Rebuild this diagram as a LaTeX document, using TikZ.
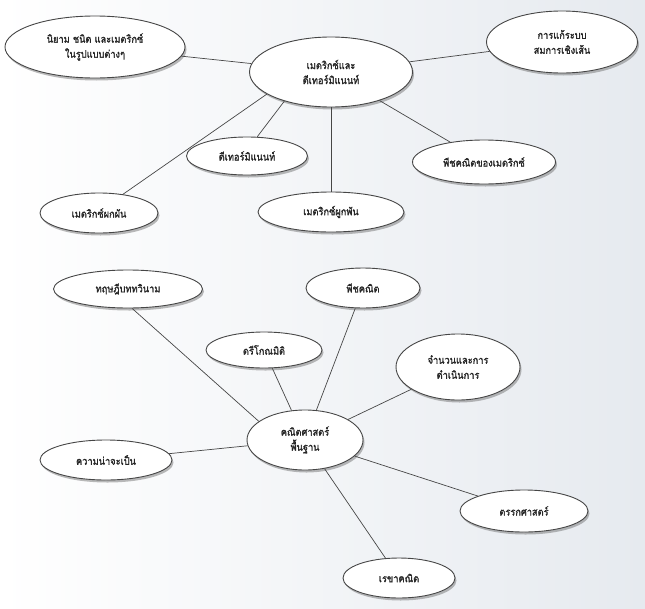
\documentclass[tikz,border=0pt]{standalone}
\usepackage{fontspec}
\newfontfamily\thaifont[Script=Thai,FakeBold=1.6,FakeStretch=0.88]{Loma}
\usetikzlibrary{shapes.geometric,shadows}
\definecolor{bgA}{RGB}{255,255,255}
\definecolor{bgB}{RGB}{230,234,239}
\definecolor{edgec}{RGB}{70,70,70}
\tikzset{
  topic/.style={ellipse, draw=edgec, line width=0.9pt, fill=white, inner sep=0pt,
    drop shadow={shadow xshift=1.5pt, shadow yshift=-2.5pt, fill=black!60, opacity=0.45},
    font=\thaifont\fontsize{10.5}{15}\selectfont, align=center, text=black!85},
  link/.style={draw=edgec, line width=0.7pt}
}
\begin{document}
\begin{tikzpicture}[x=1pt,y=-1pt]
\shade[left color=bgA, right color=bgB] (0,0) rectangle (645,608);
\useasboundingbox (0,0) rectangle (645,608);
% top cluster
\node[topic, minimum width=180pt, minimum height=62pt] (defn) at (95,47) {นิยาม ชนิด และเมตริกซ์\\ในรูปแบบต่างๆ};
\node[topic, minimum width=163pt, minimum height=70pt] (mat) at (331,72) {เมตริกซ์และ\\ดีเทอร์มิแนนท์};
\node[topic, minimum width=151pt, minimum height=62pt] (lin) at (562,42) {การแก้ระบบ\\สมการเชิงเส้น};
\node[topic, minimum width=121pt, minimum height=38pt] (det) at (247,156) {ดีเทอร์มิแนนท์};
\node[topic, minimum width=143pt, minimum height=44pt] (alg) at (484,162) {พีชคณิตของเมตริกซ์};
\node[topic, minimum width=118pt, minimum height=40pt] (inv) at (99,213) {เมตริกซ์ผกผัน};
\node[topic, minimum width=146pt, minimum height=40pt] (adj) at (331,212) {เมตริกซ์ผูกพัน};
% bottom cluster
\node[topic, minimum width=149pt, minimum height=38pt] (bin) at (128,289) {ทฤษฎีบททวินาม};
\node[topic, minimum width=114pt, minimum height=40pt] (algb) at (363,288) {พีชคณิต};
\node[topic, minimum width=116pt, minimum height=36pt] (trig) at (264,350) {ตรีโกณมิติ};
\node[topic, minimum width=124pt, minimum height=66pt] (num) at (458,367) {จำนวนและการ\\ดำเนินการ};
\node[topic, minimum width=116pt, minimum height=60pt] (base) at (305,440) {คณิตศาสตร์\\พื้นฐาน};
\node[topic, minimum width=132pt, minimum height=40pt] (prob) at (106,460) {ความน่าจะเป็น};
\node[topic, minimum width=128pt, minimum height=42pt] (logic) at (524,511) {ตรรกศาสตร์};
\node[topic, minimum width=112pt, minimum height=40pt] (geo) at (399,578) {เรขาคณิต};
% links
\path[link] (mat) -- (defn);
\path[link] (mat) -- (lin);
\path[link] (mat.212) -- (det.62);
\path[link] (mat.199) -- (inv.38);
\path[link] (mat) -- (adj);
\path[link] (mat) -- (alg);
\path[link] (base.158) -- (bin.282);
\path[link] (base) -- (trig);
\path[link] (base) -- (algb);
\path[link] (base) -- (num);
\path[link] (base) -- (prob);
\path[link] (base) -- (logic);
\path[link] (base) -- (geo);
\end{tikzpicture}
\end{document}
